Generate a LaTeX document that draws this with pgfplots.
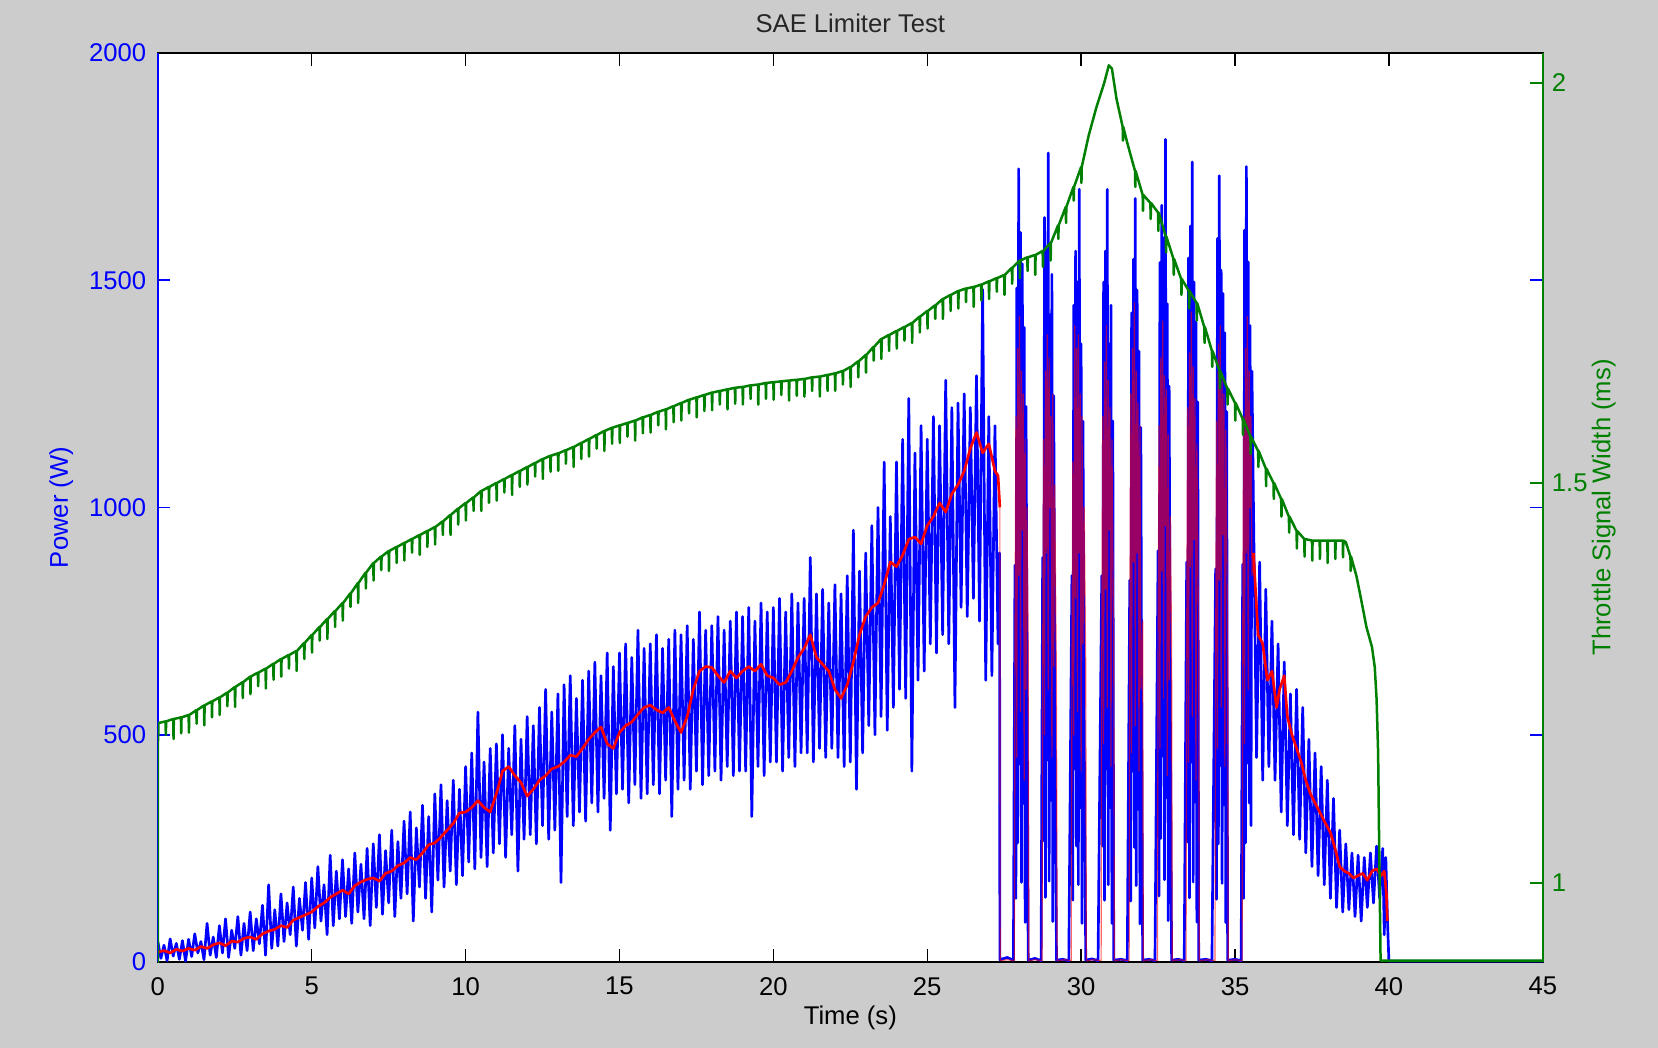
\documentclass[border=0pt]{standalone}
\usepackage{fontspec}
\setmainfont{Liberation Sans}
\usepackage{pgfplots}
\pgfplotsset{compat=1.18}
\definecolor{mgreen}{RGB}{0,128,0}
\definecolor{bg}{RGB}{204,204,204}
\definecolor{mblue}{RGB}{0,0,255}
\definecolor{mred}{RGB}{255,0,0}
\pgfplotsset{/pgf/number format/.cd, 1000 sep={}, assume math mode=true}
\begin{document}
\begin{tikzpicture}[font=\fontsize{7.7}{9}\selectfont]
\fill[bg] (-47.4pt,-25.8pt) rectangle (450.5pt,288.9pt);
\begin{axis}[
  name=ax1,
  at={(0,0)}, anchor=south west,
  scale only axis, width=415.9pt, height=273pt,
  xmin=0, xmax=45, ymin=0, ymax=2000,
  axis background/.style={fill=white},
  xtick={0,5,...,45}, ytick={0,500,...,2000},
  tick align=inside, major tick length=3.8pt,
  xtick pos=both, ytick pos=both, xticklabel pos=lower, yticklabel pos=left,
  axis line style={black, line width=0.6pt},
  xtick style={black, line width=0.4pt},
  ytick style={mblue, line width=0.5pt},
  xticklabel style={black, yshift=-1pt},
  yticklabel style={mblue},
  xlabel={Time (s)},
  xlabel style={at={(axis description cs:0.5,-0.0615)}, anchor=center},
  ylabel={Power (W)},
  ylabel style={mblue, at={(axis description cs:-0.0697,0.5)}, anchor=center},
  every axis plot/.append style={line join=round},
]
\addplot[mblue, line width=0.8pt] coordinates {
(0,45)(0.1,8)(0.2,37)(0.3,3)(0.4,51)(0.5,13)(0.6,41)(0.7,6)(0.8,47)(0.9,2)
(1,50)(1.1,12)(1.2,62)(1.3,20)(1.4,45)(1.5,5)(1.6,85)(1.7,15)(1.8,55)(1.9,10)
(2,80)(2.1,20)(2.2,95)(2.3,10)(2.4,70)(2.5,30)(2.6,100)(2.7,15)(2.8,85)(2.9,25)
(3,110)(3.1,25)(3.2,95)(3.3,40)(3.4,125)(3.5,15)(3.6,170)(3.7,30)(3.8,115)(3.9,35)
(4,150)(4.1,45)(4.2,130)(4.3,60)(4.4,165)(4.5,35)(4.6,140)(4.7,70)(4.8,175)(4.9,50)
(5,185)(5.1,75)(5.2,210)(5.3,90)(5.4,170)(5.5,60)(5.6,235)(5.7,80)(5.8,200)(5.9,95)
(6,225)(6.1,100)(6.2,205)(6.3,85)(6.4,240)(6.5,110)(6.6,215)(6.7,95)(6.8,250)(6.9,80)
(7,260)(7.1,120)(7.2,280)(7.3,105)(7.4,245)(7.5,130)(7.6,290)(7.7,100)(7.8,265)(7.9,140)
(8,310)(8.1,150)(8.2,330)(8.3,90)(8.4,295)(8.5,165)(8.6,345)(8.7,140)(8.8,320)(8.9,110)
(9,370)(9.1,180)(9.2,390)(9.3,165)(9.4,355)(9.5,200)(9.6,400)(9.7,170)(9.8,380)(9.9,190)
(10,430)(10.1,220)(10.2,460)(10.3,205)(10.4,550)(10.5,230)(10.6,440)(10.7,210)(10.8,470)(10.9,240)
(11,480)(11.1,260)(11.2,500)(11.3,230)(11.4,470)(11.5,280)(11.6,520)(11.7,200)(11.8,490)(11.9,270)
(12,540)(12.1,280)(12.2,520)(12.3,260)(12.4,560)(12.5,300)(12.6,600)(12.7,270)(12.8,550)(12.9,290)
(13,590)(13.1,175)(13.2,610)(13.3,320)(13.4,630)(13.5,300)(13.6,580)(13.7,330)(13.8,620)(13.9,310)
(14,640)(14.1,350)(14.2,660)(14.3,330)(14.4,630)(14.5,360)(14.6,680)(14.7,290)(14.8,650)(14.9,370)
(15,680)(15.1,380)(15.2,700)(15.3,350)(15.4,670)(15.5,390)(15.6,730)(15.7,360)(15.8,690)(15.9,370)
(16,700)(16.1,390)(16.2,720)(16.3,370)(16.4,690)(16.5,400)(16.6,710)(16.7,320)(16.8,730)(16.9,380)
(17,720)(17.1,400)(17.2,740)(17.3,380)(17.4,710)(17.5,420)(17.6,770)(17.7,390)(17.8,730)(17.9,410)
(18,740)(18.1,420)(18.2,760)(18.3,400)(18.4,730)(18.5,430)(18.6,750)(18.7,410)(18.8,770)(18.9,420)
(19,760)(19.1,420)(19.2,780)(19.3,320)(19.4,750)(19.5,430)(19.6,790)(19.7,410)(19.8,770)(19.9,440)
(20,780)(20.1,440)(20.2,800)(20.3,420)(20.4,770)(20.5,450)(20.6,810)(20.7,430)(20.8,790)(20.9,460)
(21,800)(21.1,460)(21.2,890)(21.3,440)(21.4,810)(21.5,470)(21.6,820)(21.7,450)(21.8,790)(21.9,470)
(22,830)(22.1,450)(22.2,810)(22.3,430)(22.4,850)(22.5,440)(22.6,950)(22.7,380)(22.8,860)(22.9,460)
(23,900)(23.1,520)(23.2,960)(23.3,500)(23.4,1000)(23.5,540)(23.6,1100)(23.7,510)(23.8,980)(23.9,560)
(24,1100)(24.1,600)(24.2,1150)(24.3,580)(24.4,1240)(24.5,420)(24.6,1120)(24.7,620)(24.8,1180)(24.9,640)
(25,1150)(25.1,700)(25.2,1200)(25.3,680)(25.4,1180)(25.5,720)(25.6,1280)(25.7,700)(25.8,1220)(25.9,560)
(26,1230)(26.1,780)(26.2,1250)(26.3,760)(26.4,1220)(26.5,800)(26.6,1290)(26.7,750)(26.8,1480)(26.9,620)
(27,1200)(27.1,630)(27.2,1180)(27.3,700)(27.35,900)(27.36,5)
(27.4,6)(27.6,10)(27.8,4)
(27.85,873)(27.88,140)(27.91,1483)(27.94,262)(27.97,1745)(28.00,436)(28.03,1605)(28.06,175)(28.09,1536)(28.12,349)(28.15,1396)(28.18,87)(28.21,1222)(28.25,524)(28.28,4)
(28.5,8)(28.7,3)
(28.75,890)(28.78,267)(28.81,1638)(28.84,142)(28.87,1566)(28.90,445)(28.93,1780)(28.96,178)(28.99,1424)(29.02,356)(29.05,1513)(29.08,89)(29.11,1246)(29.15,534)(29.20,4)
(29.4,6)(29.6,3)
(29.70,850)(29.73,136)(29.76,1445)(29.79,425)(29.82,1564)(29.85,255)(29.88,1496)(29.91,170)(29.94,1700)(29.97,340)(30.00,1360)(30.03,85)(30.06,1190)(30.10,510)(30.15,4)
(30.35,7)(30.55,3)
(30.67,850)(30.70,255)(30.73,1496)(30.76,136)(30.79,1564)(30.82,425)(30.85,1700)(30.88,170)(30.91,1360)(30.94,340)(30.97,1445)(31.00,85)(31.03,1190)(31.06,4)
(31.3,6)(31.5,3)
(31.58,840)(31.61,134)(31.64,1428)(31.67,420)(31.70,1546)(31.73,252)(31.76,1680)(31.79,168)(31.82,1478)(31.85,336)(31.88,1344)(31.91,84)(31.94,1176)(31.97,504)(32.00,4)
(32.2,6)(32.4,3)
(32.50,905)(32.53,145)(32.56,1539)(32.59,272)(32.62,1665)(32.65,453)(32.68,1593)(32.71,181)(32.74,1810)(32.77,362)(32.80,1448)(32.83,91)(32.86,1267)(32.90,543)(32.94,4)
(33.15,6)(33.35,3)
(33.43,880)(33.46,264)(33.49,1549)(33.52,141)(33.55,1619)(33.58,440)(33.61,1760)(33.64,176)(33.67,1496)(33.70,352)(33.73,1408)(33.76,88)(33.79,1232)(33.82,4)
(34.05,6)(34.25,3)
(34.37,865)(34.40,138)(34.43,1592)(34.46,260)(34.49,1730)(34.52,433)(34.55,1522)(34.58,173)(34.61,1471)(34.64,346)(34.67,1384)(34.70,87)(34.73,1211)(34.76,4)
(35.0,6)(35.2,3)
(35.25,875)(35.28,140)(35.31,1610)(35.34,262)(35.37,1750)(35.40,438)(35.43,1540)(35.46,350)(35.49,1400)(35.52,300)(35.55,1300)
(35.6,1000)(35.7,450)(35.8,880)(35.9,400)(36.0,820)(36.1,430)(36.2,750)(36.3,400)(36.4,700)(36.5,330)
(36.6,660)(36.7,300)(36.8,590)(36.9,280)(37.0,600)(37.1,270)(37.2,560)(37.3,240)(37.4,490)(37.5,210)
(37.6,460)(37.7,190)(37.8,430)(37.9,170)(38.0,400)(38.1,140)(38.2,360)(38.3,120)(38.4,290)(38.5,110)
(38.6,260)(38.7,115)(38.8,240)(38.9,100)(39.0,235)(39.1,90)(39.2,230)(39.3,120)(39.4,240)(39.5,130)
(39.6,255)(39.7,140)(39.8,250)(39.85,60)(39.9,230)(39.95,100)(40.0,2)(45,2)
};
\addplot[mred, line width=0.8pt] coordinates {
(0,22)(0.2,25)(0.4,20)(0.6,28)(0.8,24)(1.0,30)(1.2,26)(1.4,34)(1.6,30)(1.8,38)
(2.0,42)(2.2,36)(2.4,46)(2.6,44)(2.8,52)(3.0,55)(3.2,50)(3.4,62)(3.6,68)(3.8,72)
(4.0,80)(4.2,76)(4.4,92)(4.6,98)(4.8,104)(5.0,110)(5.2,122)(5.4,130)(5.6,142)(5.8,150)
(6.0,158)(6.2,150)(6.4,168)(6.6,176)(6.8,182)(7.0,185)(7.2,178)(7.4,195)(7.6,200)(7.8,212)
(8.0,218)(8.2,230)(8.4,225)(8.6,240)(8.8,258)(9.0,262)(9.2,275)(9.4,290)(9.6,305)(9.8,328)
(10.0,330)(10.2,340)(10.4,355)(10.6,340)(10.8,330)(11.0,370)(11.2,420)(11.4,430)(11.6,410)(11.8,395)
(12.0,365)(12.2,380)(12.4,400)(12.6,410)(12.8,425)(13.0,430)(13.2,440)(13.4,455)(13.6,452)(13.8,470)
(14.0,490)(14.2,505)(14.4,517)(14.6,480)(14.8,470)(15.0,505)(15.2,520)(15.4,528)(15.6,545)(15.8,560)
(16.0,565)(16.2,555)(16.4,548)(16.6,560)(16.8,530)(17.0,505)(17.2,540)(17.4,600)(17.6,640)(17.8,650)
(18.0,648)(18.2,630)(18.4,615)(18.6,640)(18.8,625)(19.0,640)(19.2,650)(19.4,640)(19.6,655)(19.8,630)
(20.0,625)(20.2,610)(20.4,615)(20.6,640)(20.8,670)(21.0,690)(21.2,720)(21.4,670)(21.6,655)(21.8,640)
(22.0,600)(22.2,580)(22.4,610)(22.6,660)(22.8,720)(23.0,760)(23.2,780)(23.4,790)(23.6,830)(23.8,880)
(24.0,870)(24.2,895)(24.4,930)(24.6,935)(24.8,920)(25.0,960)(25.2,980)(25.4,1010)(25.6,990)(25.8,1030)
(26.0,1050)(26.2,1080)(26.4,1130)(26.6,1165)(26.8,1120)(27.0,1140)(27.2,1080)(27.3,1070)(27.36,1000)
};
\addplot[mred, line width=0.35pt, opacity=0.6] coordinates {
(27.36,1000)(27.37,3)(27.6,5)(27.83,3)
(27.85,700)(27.88,1200)(27.91,450)(27.94,1350)(27.97,850)(28.00,1420)(28.03,550)(28.06,1300)(28.09,950)(28.12,1250)(28.15,400)(28.18,1150)(28.21,600)(28.24,1000)(28.28,700)(28.30,3)
(28.5,5)(28.73,3)
(28.75,650)(28.78,1150)(28.81,500)(28.84,1300)(28.87,900)(28.90,1380)(28.93,600)(28.96,1330)(28.99,1000)(29.02,1200)(29.05,450)(29.08,1250)(29.11,650)(29.14,1050)(29.20,600)(29.22,3)
(29.45,5)(29.68,3)
(29.70,600)(29.73,1100)(29.76,500)(29.79,1400)(29.82,800)(29.85,1350)(29.88,550)(29.91,1380)(29.94,900)(29.97,1250)(30.00,420)(30.03,1200)(30.06,700)(30.10,1000)(30.15,650)(30.17,3)
(30.4,5)(30.65,3)
(30.67,650)(30.70,1200)(30.73,480)(30.76,1320)(30.79,820)(30.82,1400)(30.85,560)(30.88,1280)(30.91,950)(30.94,1220)(30.97,430)(31.00,1150)(31.06,700)(31.08,3)
(31.3,5)(31.56,3)
(31.58,700)(31.61,1250)(31.64,460)(31.67,1350)(31.70,880)(31.73,1450)(31.76,520)(31.79,1300)(31.82,900)(31.85,1230)(31.88,420)(31.91,1180)(31.94,600)(32.00,750)(32.02,3)
(32.25,5)(32.48,3)
(32.50,680)(32.53,1180)(32.56,470)(32.59,1330)(32.62,860)(32.65,1410)(32.68,580)(32.71,1290)(32.74,960)(32.77,1260)(32.80,410)(32.83,1160)(32.86,620)(32.90,980)(32.94,680)(32.96,3)
(33.2,5)(33.41,3)
(33.43,700)(33.46,1220)(33.49,440)(33.52,1340)(33.55,870)(33.58,1430)(33.61,540)(33.64,1310)(33.67,930)(33.70,1240)(33.73,400)(33.76,1140)(33.82,700)(33.84,3)
(34.1,5)(34.35,3)
(34.37,660)(34.40,1190)(34.43,470)(34.46,1360)(34.49,840)(34.52,1400)(34.55,560)(34.58,1280)(34.61,940)(34.64,1250)(34.67,430)(34.70,1170)(34.76,720)(34.78,3)
(35.0,5)(35.23,3)
(35.25,700)(35.28,1200)(35.31,480)(35.34,1350)(35.37,900)(35.40,1420)(35.43,600)(35.46,1300)(35.49,1000)(35.52,1200)(35.55,850)(35.6,900)
};
\addplot[mred, line width=0.8pt] coordinates {
(35.6,900)(35.75,720)(35.9,700)(36.05,620)(36.2,640)(36.35,560)(36.45,600)(36.6,630)(36.7,540)(36.85,500)
(37.0,470)(37.15,440)(37.3,400)(37.45,370)(37.6,350)(37.75,330)(37.9,310)(38.1,285)(38.25,250)(38.4,210)
(38.55,200)(38.7,195)(38.85,185)(39.0,190)(39.15,195)(39.3,180)(39.45,200)(39.6,205)(39.75,190)(39.85,200)
(39.92,150)(39.95,90)
};
\end{axis}
\draw[mblue, line width=0.6pt] (ax1.south west) -- (ax1.north west);
\node[text=black!85, anchor=center, inner sep=0pt] at ([yshift=9pt]ax1.north) {SAE Limiter Test};
\begin{axis}[
  at={(0,0)}, anchor=south west,
  scale only axis, width=415.9pt, height=273pt,
  xmin=0, xmax=45, ymin=0.90125, ymax=2.0375,
  axis x line=none, axis y line*=right,
  ytick={1,1.5,2},
  tick align=inside, major tick length=3.8pt,
  y axis line style={-, mgreen, line width=0.6pt},
  ytick style={mgreen, line width=0.5pt},
  yticklabel style={mgreen, xshift=-0.8pt},
  ylabel={Throttle Signal Width (ms)},
  ylabel style={mgreen, at={(axis description cs:1.044,0.5)}, anchor=center, rotate=0},
  every axis plot/.append style={line width=0.75pt, line join=round},
]
\addplot[mgreen] coordinates {
(0,0.85)(0,1.200)(0.01,1.178)(0.02,1.200)
(0.25,1.202)(0.26,1.185)(0.27,1.202)(0.50,1.205)(0.51,1.180)(0.52,1.205)(0.75,1.207)(0.76,1.187)(0.77,1.207)
(1.00,1.210)(1.01,1.188)(1.02,1.210)(1.25,1.216)(1.26,1.199)(1.27,1.216)(1.50,1.222)(1.51,1.197)(1.52,1.222)(1.75,1.227)(1.76,1.207)(1.77,1.227)
(2.00,1.232)(2.01,1.210)(2.02,1.232)(2.25,1.238)(2.26,1.221)(2.27,1.238)(2.50,1.245)(2.51,1.220)(2.52,1.245)(2.75,1.251)(2.76,1.231)(2.77,1.251)
(3.00,1.258)(3.01,1.236)(3.02,1.258)(3.25,1.263)(3.26,1.246)(3.27,1.263)(3.50,1.268)(3.51,1.243)(3.52,1.268)(3.75,1.274)(3.76,1.254)(3.77,1.274)
(4.00,1.280)(4.01,1.258)(4.02,1.280)(4.25,1.285)(4.26,1.268)(4.27,1.285)(4.50,1.290)(4.51,1.265)(4.52,1.290)(4.75,1.300)(4.76,1.280)(4.77,1.300)
(5.00,1.310)(5.01,1.288)(5.02,1.310)(5.25,1.320)(5.26,1.303)(5.27,1.320)(5.50,1.330)(5.51,1.305)(5.52,1.330)(5.75,1.340)(5.76,1.320)(5.77,1.340)
(6.00,1.350)(6.01,1.328)(6.02,1.350)(6.25,1.362)(6.26,1.345)(6.27,1.362)(6.50,1.375)(6.51,1.350)(6.52,1.375)(6.75,1.388)(6.76,1.368)(6.77,1.388)
(7.00,1.400)(7.01,1.378)(7.02,1.400)(7.25,1.408)(7.26,1.391)(7.27,1.408)(7.50,1.415)(7.51,1.390)(7.52,1.415)(7.75,1.420)(7.76,1.400)(7.77,1.420)
(8.00,1.425)(8.01,1.403)(8.02,1.425)(8.25,1.430)(8.26,1.413)(8.27,1.430)(8.50,1.435)(8.51,1.410)(8.52,1.435)(8.75,1.440)(8.76,1.420)(8.77,1.440)
(9.00,1.445)(9.01,1.423)(9.02,1.445)(9.25,1.452)(9.26,1.435)(9.27,1.452)(9.50,1.460)(9.51,1.435)(9.52,1.460)(9.75,1.468)(9.76,1.448)(9.77,1.468)
(10.00,1.475)(10.01,1.453)(10.02,1.475)(10.25,1.482)(10.26,1.465)(10.27,1.482)(10.50,1.490)(10.51,1.465)(10.52,1.490)(10.75,1.495)(10.76,1.475)(10.77,1.495)
(11.00,1.500)(11.01,1.478)(11.02,1.500)(11.25,1.505)(11.26,1.488)(11.27,1.505)(11.50,1.510)(11.51,1.485)(11.52,1.510)(11.75,1.515)(11.76,1.495)(11.77,1.515)
(12.00,1.520)(12.01,1.498)(12.02,1.520)(12.25,1.525)(12.26,1.508)(12.27,1.525)(12.50,1.530)(12.51,1.505)(12.52,1.530)(12.75,1.534)(12.76,1.514)(12.77,1.534)
(13.00,1.537)(13.01,1.515)(13.02,1.537)(13.25,1.541)(13.26,1.524)(13.27,1.541)(13.50,1.545)(13.51,1.520)(13.52,1.545)(13.75,1.550)(13.76,1.530)(13.77,1.550)
(14.00,1.555)(14.01,1.533)(14.02,1.555)(14.25,1.560)(14.26,1.543)(14.27,1.560)(14.50,1.565)(14.51,1.540)(14.52,1.565)(14.75,1.569)(14.76,1.549)(14.77,1.569)
(15.00,1.572)(15.01,1.550)(15.02,1.572)(15.25,1.575)(15.26,1.558)(15.27,1.575)(15.50,1.578)(15.51,1.553)(15.52,1.578)(15.75,1.582)(15.76,1.562)(15.77,1.582)
(16.00,1.585)(16.01,1.563)(16.02,1.585)(16.25,1.589)(16.26,1.572)(16.27,1.589)(16.50,1.592)(16.51,1.567)(16.52,1.592)(16.75,1.596)(16.76,1.576)(16.77,1.596)
(17.00,1.600)(17.01,1.578)(17.02,1.600)(17.25,1.604)(17.26,1.587)(17.27,1.604)(17.50,1.607)(17.51,1.582)(17.52,1.607)(17.75,1.610)(17.76,1.590)(17.77,1.610)
(18.00,1.613)(18.01,1.591)(18.02,1.613)(18.25,1.615)(18.26,1.598)(18.27,1.615)(18.50,1.617)(18.51,1.592)(18.52,1.617)(18.75,1.619)(18.76,1.599)(18.77,1.619)
(19.00,1.620)(19.01,1.598)(19.02,1.620)(19.25,1.622)(19.26,1.605)(19.27,1.622)(19.50,1.623)(19.51,1.598)(19.52,1.623)(19.75,1.625)(19.76,1.605)(19.77,1.625)
(20.00,1.626)(20.01,1.604)(20.02,1.626)(20.25,1.627)(20.26,1.610)(20.27,1.627)(20.50,1.628)(20.51,1.603)(20.52,1.628)(20.75,1.629)(20.76,1.609)(20.77,1.629)
(21.00,1.630)(21.01,1.608)(21.02,1.630)(21.25,1.632)(21.26,1.615)(21.27,1.632)(21.50,1.633)(21.51,1.608)(21.52,1.633)(21.75,1.635)(21.76,1.615)(21.77,1.635)
(22.00,1.637)(22.01,1.615)(22.02,1.637)(22.25,1.640)(22.26,1.623)(22.27,1.640)(22.50,1.645)(22.51,1.620)(22.52,1.645)(22.75,1.652)(22.76,1.632)(22.77,1.652)
(23.00,1.660)(23.01,1.638)(23.02,1.660)(23.25,1.670)(23.26,1.653)(23.27,1.670)(23.50,1.680)(23.51,1.655)(23.52,1.680)(23.75,1.685)(23.76,1.665)(23.77,1.685)
(24.00,1.690)(24.01,1.668)(24.02,1.690)(24.25,1.695)(24.26,1.678)(24.27,1.695)(24.50,1.700)(24.51,1.675)(24.52,1.700)(24.75,1.708)(24.76,1.688)(24.77,1.708)
(25.00,1.715)(25.01,1.693)(25.02,1.715)(25.25,1.722)(25.26,1.705)(25.27,1.722)(25.50,1.730)(25.51,1.705)(25.52,1.730)(25.75,1.735)(25.76,1.715)(25.77,1.735)
(26.00,1.740)(26.01,1.718)(26.02,1.740)(26.25,1.743)(26.26,1.726)(26.27,1.743)(26.50,1.745)(26.51,1.720)(26.52,1.745)(26.75,1.748)(26.76,1.728)(26.77,1.748)
(27.00,1.752)(27.01,1.730)(27.02,1.752)(27.25,1.756)(27.26,1.739)(27.27,1.756)(27.50,1.760)(27.51,1.735)(27.52,1.760)(27.75,1.769)(27.76,1.749)(27.77,1.769)
(28.00,1.778)(28.01,1.756)(28.02,1.778)(28.25,1.782)(28.26,1.765)(28.27,1.782)(28.50,1.785)(28.51,1.760)(28.52,1.785)(28.75,1.790)(28.76,1.770)(28.77,1.790)
(29.00,1.800)(29.01,1.778)(29.02,1.800)(29.25,1.822)(29.26,1.805)(29.27,1.822)(29.50,1.845)(29.51,1.825)(29.52,1.845)(29.75,1.870)(29.76,1.853)(29.77,1.870)
(30.00,1.895)(30.01,1.875)(30.02,1.895)(30.25,1.935)(30.5,1.970)(30.75,2.000)(30.9,2.022)(31.0,2.018)(31.15,1.980)
(31.35,1.945)(31.36,1.928)(31.37,1.945)(31.50,1.925)(31.75,1.890)(31.76,1.870)(31.77,1.890)
(32.00,1.860)(32.01,1.840)(32.02,1.860)(32.25,1.850)(32.26,1.830)(32.27,1.850)(32.50,1.838)(32.51,1.815)(32.52,1.838)(32.75,1.808)(32.76,1.788)(32.77,1.808)
(33.00,1.780)(33.01,1.760)(33.02,1.780)(33.25,1.755)(33.26,1.735)(33.27,1.755)(33.50,1.740)(33.51,1.718)(33.52,1.740)(33.75,1.725)(33.76,1.703)(33.77,1.725)
(34.00,1.695)(34.01,1.675)(34.02,1.695)(34.25,1.665)(34.26,1.645)(34.27,1.665)(34.50,1.640)(34.51,1.618)(34.52,1.640)(34.75,1.618)(34.76,1.598)(34.77,1.618)
(35.00,1.600)(35.01,1.578)(35.02,1.600)(35.25,1.580)(35.26,1.560)(35.27,1.580)(35.50,1.558)(35.51,1.536)(35.52,1.558)(35.75,1.540)(35.76,1.520)(35.77,1.540)
(36.00,1.518)(36.01,1.496)(36.02,1.518)(36.25,1.500)(36.26,1.480)(36.27,1.500)(36.50,1.480)(36.51,1.458)(36.52,1.480)(36.75,1.458)(36.76,1.438)(36.77,1.458)
(37.00,1.440)(37.01,1.418)(37.02,1.440)(37.25,1.430)(37.26,1.408)(37.27,1.430)(37.50,1.428)(37.51,1.403)(37.52,1.428)(37.75,1.428)(37.76,1.405)(37.77,1.428)
(38.00,1.428)(38.01,1.400)(38.02,1.428)(38.25,1.428)(38.26,1.405)(38.27,1.428)(38.50,1.428)(38.51,1.407)(38.52,1.428)(38.60,1.426)
(38.75,1.408)(38.76,1.390)(38.77,1.408)(38.95,1.383)(39.10,1.354)(39.27,1.320)(39.45,1.295)(39.54,1.270)(39.60,1.230)(39.65,1.163)(39.68,1.060)(39.73,0.903)(45,0.903)
};
\end{axis}
\pgfresetboundingbox
\path[use as bounding box] (-47.4pt,-25.8pt) rectangle (450.5pt,288.9pt);
\end{tikzpicture}
\end{document}
